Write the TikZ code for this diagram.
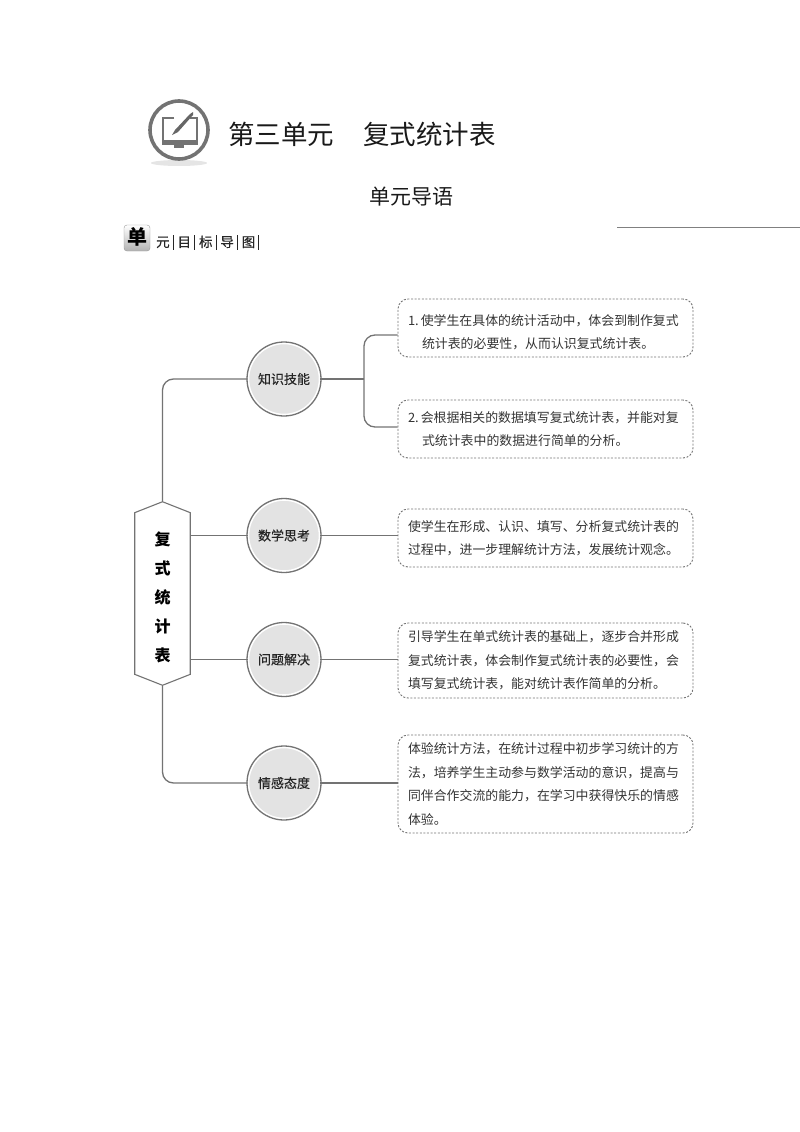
\documentclass[tikz,border=0pt]{standalone}
\usepackage{fontspec}
\setmainfont{Noto Sans CJK SC}
\newfontfamily\ballfont[FakeBold=0.35]{Noto Sans CJK SC}
\usetikzlibrary{shapes.symbols}
\definecolor{linegray}{gray}{0.45}
\definecolor{ballgray}{gray}{0.89}
\definecolor{textgray}{gray}{0.2}
\newcommand{\sepbar}{\hspace{3pt}\rule[-2.5pt]{0.7pt}{15pt}\hspace{4.2pt}}
\tikzset{
  link/.style={draw=linegray,line width=1.3pt},
  ball/.style={circle,fill=ballgray,draw=white,line width=1.6pt,minimum size=71pt,inner sep=0pt,font=\ballfont\fontsize{13pt}{15pt}\selectfont,text=black!85},
  ballring/.style={draw=linegray,line width=1.3pt},
  infobox/.style={draw=linegray,dashed,dash pattern=on 2pt off 1.6pt,line width=0.9pt,rounded corners=10pt,minimum width=295pt,text width=275pt,inner sep=0pt,align=left,font=\fontsize{12.9pt}{23.4pt}\selectfont,text=textgray},
}
\begin{document}
\begin{tikzpicture}[x=1pt,y=-1pt]
\useasboundingbox (0,0) rectangle (800,1132);
\fill[black!10] (179,163) ellipse[x radius=28,y radius=3];
\draw[fill=white,draw=black!55,line width=3.6pt] (179,130) circle[radius=29];
\draw[black!55,line width=1.2pt] (174,118) -- (163,118) -- (163,141) -- (197,141) -- (197,118) -- (190,118);
\fill[black!55] (162,140) rectangle (198,145);
\fill[black!55] (174,145) rectangle (184,148);
\fill[black!60] (172,135) -- (175,130) -- (190,114) -- (193,112) -- (193,115) -- (178,132) -- cycle;
\node[anchor=west,font=\fontsize{26.5pt}{30pt}\selectfont,text=black!90,inner sep=0pt] (title) at (228,134) {第三单元\hspace{29pt}复式统计表};
\node[font=\fontsize{21pt}{25pt}\selectfont,text=black!90,inner sep=0pt] (subtitle) at (411.5,197) {单元导语};
\shade[top color=white,bottom color=black!30,draw=black!40,rounded corners=3pt] (124,225) rectangle (150,251);
\node[font=\bfseries\fontsize{20pt}{22pt}\selectfont,inner sep=0pt] (badge) at (137,237) {单};
\node[anchor=west,font=\ballfont\fontsize{13.5pt}{15pt}\selectfont,text=black!85,inner sep=0pt] (heading) at (156,242) {元\sepbar 目\sepbar 标\sepbar 导\sepbar 图\sepbar};
\draw[draw=black!50,line width=0.7pt] (617,227) -- (800,227);

\node[draw=linegray,line width=1.1pt,shape=signal,signal to=north and south,signal pointer angle=137,fill=white,minimum width=55.5pt,minimum height=168pt,inner sep=0pt,align=center,font=\bfseries\fontsize{16pt}{29pt}\selectfont] (biaoge) at (162.5,593.5) {\rule{0pt}{22pt}复\\式\\统\\计\\表};
\node[ball] (zhishi) at (284,379) {知识技能};
\node[ball] (shuxue) at (284,535.5) {数学思考};
\node[ball] (wenti) at (284,659.5) {问题解决};
\node[ball] (qinggan) at (284,783) {情感态度};
\draw[ballring] (zhishi.center) circle[radius=37];
\draw[ballring] (shuxue.center) circle[radius=37];
\draw[ballring] (wenti.center) circle[radius=37];
\draw[ballring] (qinggan.center) circle[radius=37];

\node[infobox,minimum height=58pt] (boxa) at (545.5,328) {\rule{0pt}{19pt}1.\hspace{2pt}使学生在具体的统计活动中，体会到制作复式\\\hspace{14pt}统计表的必要性，从而认识复式统计表。};
\node[infobox,minimum height=58pt] (boxb) at (545.5,429) {2.\hspace{2pt}会根据相关的数据填写复式统计表，并能对复\\\hspace{14pt}式统计表中的数据进行简单的分析。};
\node[infobox,minimum height=58pt] (boxc) at (545.5,538) {使学生在形成、认识、填写、分析复式统计表的\\过程中，进一步理解统计方法，发展统计观念。};
\node[infobox,minimum height=75pt] (boxd) at (545.5,660.5) {引导学生在单式统计表的基础上，逐步合并形成\\复式统计表，体会制作复式统计表的必要性，会\\填写复式统计表，能对统计表作简单的分析。};
\node[infobox,minimum height=98pt] (boxe) at (545.5,784) {体验统计方法，在统计过程中初步学习统计的方\\法，培养学生主动参与数学活动的意识，提高与\\同伴合作交流的能力，在学习中获得快乐的情感\\体验。};

\coordinate (fork) at (364,379);
\draw[link,rounded corners=11pt] (biaoge.north) |- (zhishi.west);
\draw[link,rounded corners=11pt] (biaoge.south) |- (qinggan.west);
\draw[link] (biaoge.east |- shuxue.west) -- (shuxue.west);
\draw[link] (biaoge.east |- wenti.west) -- (wenti.west);
\draw[link] (zhishi.east) -- (fork);
\draw[link,rounded corners=11pt] ([yshift=-7pt]boxa.west) -| (fork) |- ([yshift=2pt]boxb.west);
\draw[link] (shuxue.east) -- (boxc.west |- shuxue.east);
\draw[link] (wenti.east) -- (boxd.west |- wenti.east);
\draw[link] (qinggan.east) -- (boxe.west |- qinggan.east);
\end{tikzpicture}
\end{document}
